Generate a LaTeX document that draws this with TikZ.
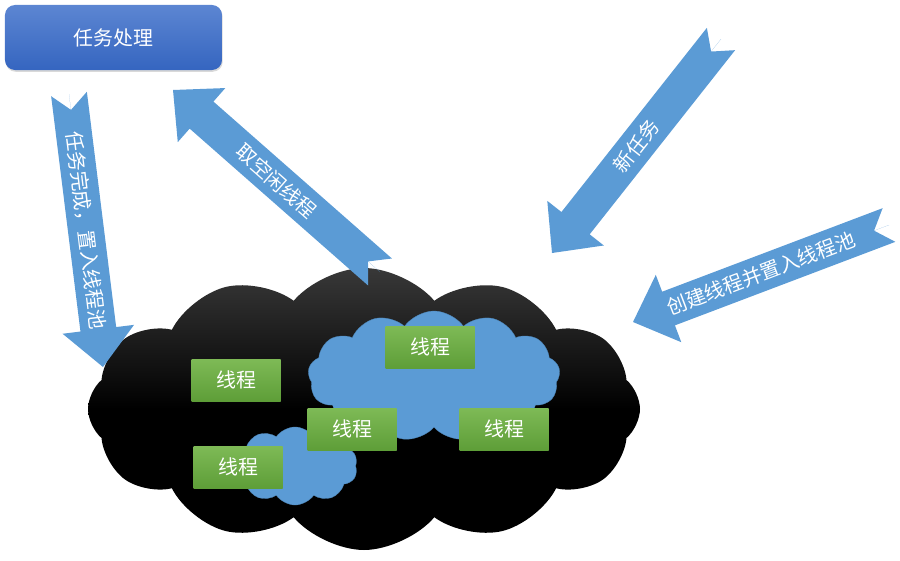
\documentclass[tikz,border=0pt]{standalone}
\usepackage{fontspec}
\setmainfont{Noto Sans CJK SC}
\usetikzlibrary{calc}
\usetikzlibrary{shapes.symbols}
\usetikzlibrary{shadows}
\definecolor{arrowblue}{RGB}{91,155,213}
\definecolor{boxtop}{RGB}{92,134,210}
\definecolor{boxbottom}{RGB}{53,101,192}
\definecolor{threadtop}{RGB}{126,186,86}
\definecolor{threadbottom}{RGB}{94,158,56}
\tikzset{
    fatarrow/.style={
        fill=arrowblue,
        to path={
            ($(\tikztostart)!0.54cm!90:(\tikztotarget)$)
            -- ($(\tikztostart)!0.48cm!(\tikztotarget)$)
            -- ($(\tikztostart)!0.54cm!-90:(\tikztotarget)$)
            -- ($($(\tikztotarget)!1.14cm!(\tikztostart)$)!0.54cm!-90:(\tikztotarget)$)
            -- ($($(\tikztotarget)!1.14cm!(\tikztostart)$)!1.08cm!-90:(\tikztotarget)$)
            -- (\tikztotarget)
            -- ($($(\tikztotarget)!1.14cm!(\tikztostart)$)!1.08cm!90:(\tikztotarget)$)
            -- ($($(\tikztotarget)!1.14cm!(\tikztostart)$)!0.54cm!90:(\tikztotarget)$)
            -- cycle
            (\tikztostart) -- (\tikztotarget) \tikztonodes
        }
    }
}

\begin{document}
\begin{tikzpicture}[
        x=0.03cm, y=-0.03cm,
        every node/.style={font=\fontsize{17}{20}\selectfont},
        arrowtext/.style={midway, sloped, text=white},
        taskbox/.style={rectangle, rounded corners=0.3cm, top color=boxtop, bottom color=boxbottom,
            text=white, minimum width=6.51cm, minimum height=1.95cm,
            drop shadow={opacity=0.3, shadow xshift=0.6pt, shadow yshift=-1.5pt}},
        thread/.style={rectangle, top color=threadtop, bottom color=threadbottom,
            text=white, minimum width=2.67cm, minimum height=1.26cm,
            drop shadow={opacity=0.35, shadow xshift=0.8pt, shadow yshift=-0.8pt}},
        pool/.style={cloud, cloud puffs=12, cloud puff arc=100, cloud ignores aspect,
            top color=black!78, bottom color=black, middle color=black,
            minimum width=16.56cm, minimum height=8.46cm},
        idle/.style={cloud, cloud puffs=#1, cloud puff arc=110, cloud ignores aspect,
            fill=arrowblue, draw=arrowblue!85!black, line width=0.3pt},
    ]

    % clouds
    \node[pool]                 (pool)   at (364,409) {};
    \node[idle=13, minimum width=7.56cm, minimum height=3.9cm]  (busy)  at (434,376) {};
    \node[idle=10, minimum width=3.75cm, minimum height=2.34cm] (spare) at (295,466) {};

    % threads
    \node[thread]      (t1)  at (236,380) {线程};
    \node[thread]      (t2)  at (430,347) {线程};
    \node[thread]      (t3)  at (352,429) {线程};
    \node[thread]      (t4)  at (504,429) {线程};
    \node[thread]      (t5)  at (238,467) {线程};

    \node[taskbox]     (task) at (113.5,37.5) {任务处理};

    % arrows
    \coordinate (a1s) at (69,94);
    \coordinate (a1e) at (103,367);
    \coordinate (a2s) at (380,272);
    \coordinate (a2e) at (173,90);
    \coordinate (a3s) at (721,39);
    \coordinate (a3e) at (552,253);
    \coordinate (a4s) at (889,225);
    \coordinate (a4e) at (633,322);

    \path[fatarrow] (a1s) to node[arrowtext] (done)   {任务完成，置入线程池} (a1e);
    \path[fatarrow] (a2s) to node[arrowtext] (fetch)  {取空闲线程} (a2e);
    \path[fatarrow] (a3s) to node[arrowtext] (new)    {新任务} (a3e);
    \path[fatarrow] (a4s) to node[arrowtext] (create) {创建线程并置入线程池} (a4e);

    \useasboundingbox (0,0) rectangle (900,560);
\end{tikzpicture}
\end{document}
